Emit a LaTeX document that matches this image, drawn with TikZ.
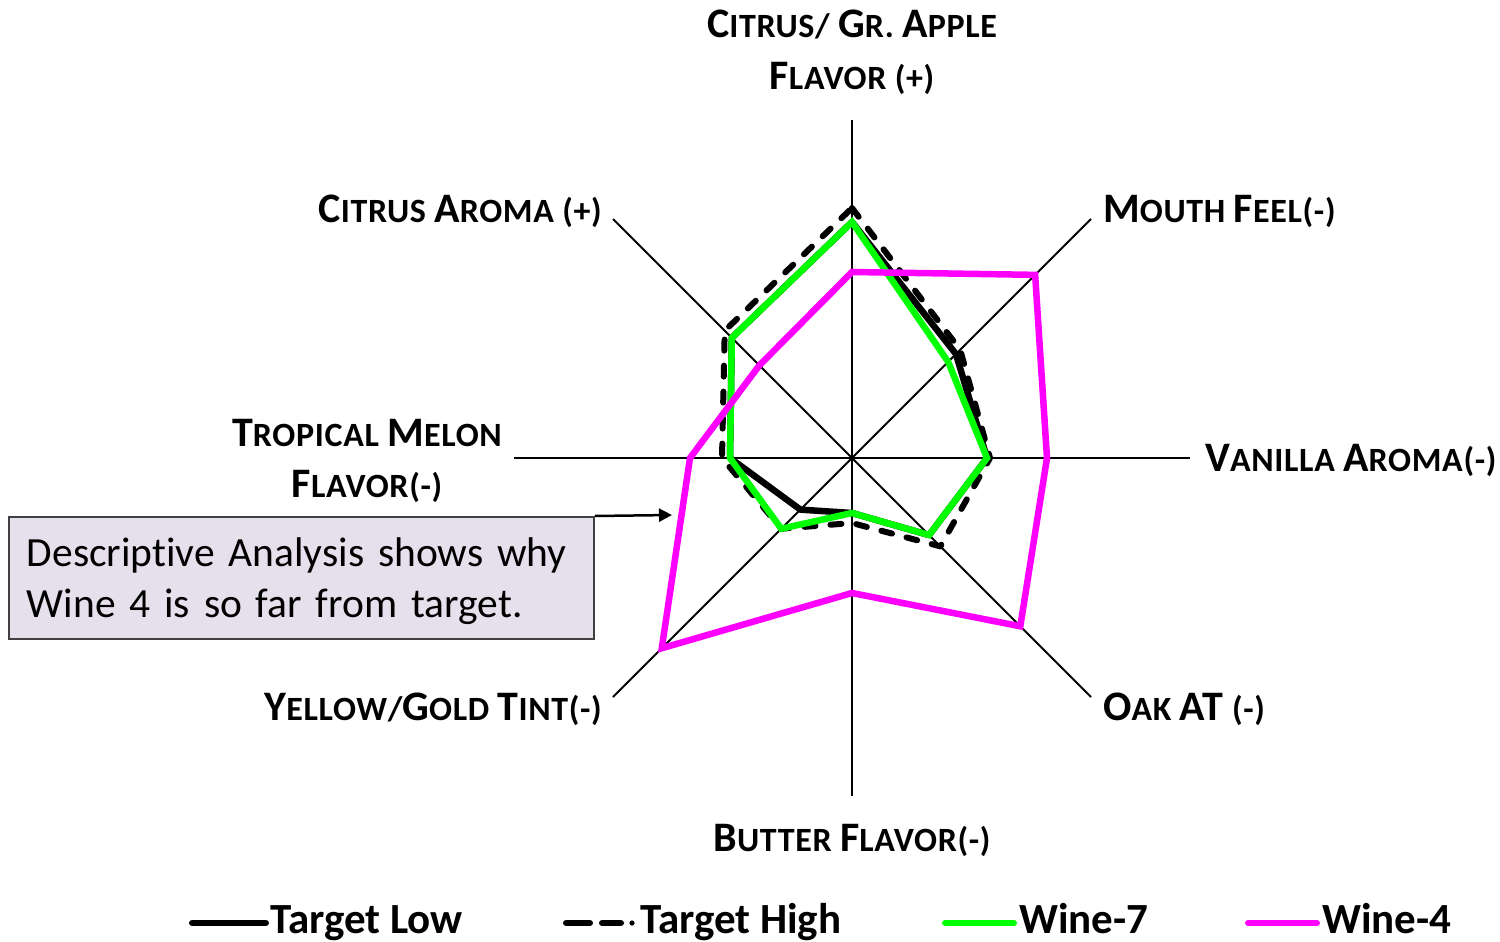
\documentclass[tikz,border=0pt]{standalone}
\usepackage{fontspec}
\setmainfont{Carlito}
\usetikzlibrary{arrows.meta}

% capital letter in the faked small-caps labels
\newcommand\Cap[1]{{\fontsize{42}{42}\selectfont #1}}

\definecolor{winegreen}{RGB}{0,255,0}
\definecolor{winemagenta}{RGB}{255,0,255}
\definecolor{notefill}{RGB}{229,224,236}
\definecolor{noteedge}{RGB}{64,64,64}

\tikzset{
  axisline/.style={line width=1.8pt, black},
  serieslow/.style={line width=6.5pt, black, line join=round},
  serieshigh/.style={line width=6pt, black, line join=round, line cap=round, dash pattern=on 11pt off 15pt},
  seriesseven/.style={line width=6.5pt, winegreen, line join=miter},
  seriesfour/.style={line width=6.5pt, winemagenta, line join=miter},
  axislabel/.style={inner sep=0pt, font=\bfseries\fontsize{34}{40}\selectfont\addfontfeature{LetterSpace=2}},
  legendtext/.style={inner sep=0pt, anchor=base west, font=\bfseries\fontsize{43}{48}\selectfont},
}

\begin{document}
\begin{tikzpicture}[x=1pt,y=-1pt]
\useasboundingbox (0,0) rectangle (1500,942);

\coordinate (O) at (852,458);

% radar: axes and the four series, drawn around the centre
\begin{scope}[shift={(O)}, yscale=-1]
  \foreach \a in {0,45,...,315} \draw[axisline] (0,0) -- (\a:338);

  % Target Low
  \draw[serieslow] (90:236) -- (45:147) -- (0:135) -- (-45:109) -- (-90:55)
        -- (-135:73) -- (180:122) -- (135:170) -- cycle;
  % Target High
  \draw[serieshigh] (90:250) -- (45:153) -- (0:138) -- (-45:125) -- (-90:65)
        -- (-135:100) -- (180:130) -- (135:180) -- cycle;
  % Wine-7
  \draw[seriesseven] (90:236) -- (45:136) -- (0:135) -- (-45:109) -- (-90:55)
        -- (-135:100) -- (180:122) -- (135:170) -- cycle;
  % Wine-4
  \draw[seriesfour] (90:186) -- (45:259) -- (0:195) -- (-45:238) -- (-90:135)
        -- (-135:269) -- (180:162) -- (135:131) -- cycle;
\end{scope}

% axis labels
\node[axislabel, anchor=base] (lblTopA) at (852,38) {\Cap{C}ITRUS/ \Cap{G}R. \Cap{A}PPLE};
\node[axislabel, anchor=base] (lblTopB) at (852,90) {\Cap{F}LAVOR (+)};
\node[axislabel, anchor=base east] (lblTL) at (602,222) {\Cap{C}ITRUS \Cap{A}ROMA (+)};
\node[axislabel, anchor=base west] (lblTR) at (1103,222) {\Cap{M}OUTH \Cap{F}EEL(-)};
\node[axislabel, anchor=base west] (lblR) at (1205,471) {\Cap{V}ANILLA \Cap{A}ROMA(-)};
\node[axislabel, anchor=base west] (lblBR) at (1103,720) {\Cap{O}AK \Cap{AT} (-)};
\node[axislabel, anchor=base] (lblB) at (852,851) {\Cap{B}UTTER \Cap{F}LAVOR(-)};
\node[axislabel, anchor=base east] (lblBL) at (602,720) {\Cap{Y}ELLOW/\Cap{G}OLD \Cap{T}INT(-)};
\node[axislabel, anchor=base] (lblLA) at (367,446) {\Cap{T}ROPICAL \Cap{M}ELON};
\node[axislabel, anchor=base] (lblLB) at (367,497) {\Cap{F}LAVOR(-)};

% call-out box with its pointer
\node[draw=noteedge, line width=1.8pt, fill=notefill, anchor=north west,
      minimum width=585pt, minimum height=122pt, text width=549pt,
      inner xsep=18pt, align=left,
      font=\fontsize{41.5}{51}\selectfont\addfontfeature{Ligatures=NoCommon}] (note) at (8,516)
  {\rule{0pt}{36pt}Descriptive Analysis shows why\\Wine 4 is so far from target.};
\coordinate (noteTip) at (672,515);
\draw[line width=2.5pt, -{Triangle[length=13pt,width=13pt]}] (note.north east) -- (noteTip);

% legend
\coordinate (lgA1) at (192,923); \coordinate (lgA2) at (266,923);
\draw[line width=6pt, line cap=round] (lgA1) -- (lgA2);
\node[legendtext] (legLow) at (270,933) {Target Low};

\coordinate (lgB1) at (566,923); \coordinate (lgB2) at (590,923);
\coordinate (lgB3) at (602,923); \coordinate (lgB4) at (621,923);
\draw[line width=6pt, line cap=round] (lgB1) -- (lgB2);
\draw[line width=6pt, line cap=round] (lgB3) -- (lgB4);
\fill (632,923) circle (2.6pt);
\node[legendtext] (legHigh) at (640,933) {Target High};

\coordinate (lgC1) at (945,923); \coordinate (lgC2) at (1014,923);
\draw[line width=6pt, line cap=round, winegreen] (lgC1) -- (lgC2);
\node[legendtext] (legSeven) at (1019,933) {Wine-7};

\coordinate (lgD1) at (1248,923); \coordinate (lgD2) at (1317,923);
\draw[line width=6pt, line cap=round, winemagenta] (lgD1) -- (lgD2);
\node[legendtext] (legFour) at (1322,933) {Wine-4};
\end{tikzpicture}
\end{document}
